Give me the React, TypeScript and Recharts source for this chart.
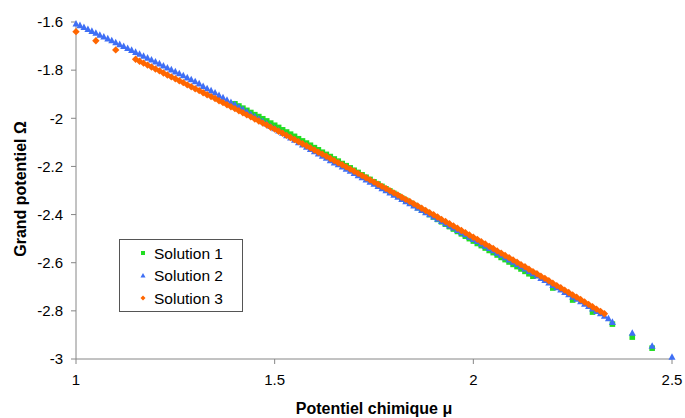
import React from "react";
import {
  ScatterChart,
  Scatter,
  XAxis,
  YAxis,
} from "recharts";

// Potentiel chimique (mu) vs grand potentiel (omega), three solution series

const X_TICKS = [1, 1.5, 2, 2.5];
const Y_TICKS = [-3, -2.8, -2.6, -2.4, -2.2, -2, -1.8, -1.6];

const SERIES_NAMES = ["Solution 1", "Solution 2", "Solution 3"];

// [mu, omega]
const SOLUTION_1: [number, number][] = [
  [1.40, -1.940], [1.41, -1.949], [1.42, -1.958], [1.43, -1.967], [1.44, -1.976],
  [1.45, -1.985], [1.46, -1.993], [1.47, -2.002], [1.48, -2.011], [1.49, -2.020],
  [1.50, -2.029], [1.51, -2.038], [1.52, -2.048], [1.53, -2.057], [1.54, -2.066],
  [1.55, -2.075], [1.56, -2.085], [1.57, -2.094], [1.58, -2.103], [1.59, -2.112],
  [1.60, -2.122], [1.61, -2.131], [1.62, -2.141], [1.63, -2.150], [1.64, -2.159],
  [1.65, -2.169], [1.66, -2.178], [1.67, -2.188], [1.68, -2.197], [1.69, -2.206],
  [1.70, -2.216], [1.71, -2.225], [1.72, -2.235], [1.73, -2.245], [1.74, -2.254],
  [1.75, -2.264], [1.76, -2.273], [1.77, -2.283], [1.78, -2.293], [1.79, -2.302],
  [1.80, -2.312], [1.81, -2.322], [1.82, -2.332], [1.83, -2.341], [1.84, -2.351],
  [1.85, -2.361], [1.86, -2.371], [1.87, -2.381], [1.88, -2.390], [1.89, -2.400],
  [1.90, -2.410], [1.91, -2.420], [1.92, -2.430], [1.93, -2.440], [1.94, -2.450],
  [1.95, -2.460], [1.96, -2.470], [1.97, -2.480], [1.98, -2.490], [1.99, -2.500],
  [2.00, -2.510], [2.01, -2.520], [2.02, -2.529], [2.03, -2.539], [2.04, -2.549],
  [2.05, -2.558], [2.06, -2.568], [2.07, -2.578], [2.08, -2.587], [2.09, -2.597],
  [2.10, -2.607], [2.11, -2.616], [2.12, -2.626], [2.13, -2.636], [2.14, -2.646],
  [2.15, -2.656],
  [2.20, -2.705], [2.25, -2.755], [2.30, -2.805], [2.35, -2.855],
  [2.40, -2.909], [2.45, -2.955],
];

const SOLUTION_2: [number, number][] = [
  [1.00, -1.607], [1.01, -1.614], [1.02, -1.622], [1.03, -1.630], [1.04, -1.638],
  [1.05, -1.646], [1.06, -1.654], [1.07, -1.661], [1.08, -1.669], [1.09, -1.677],
  [1.10, -1.685], [1.11, -1.693], [1.12, -1.701], [1.13, -1.709], [1.14, -1.717],
  [1.15, -1.725], [1.16, -1.733], [1.17, -1.741], [1.18, -1.749], [1.19, -1.757],
  [1.20, -1.765], [1.21, -1.773], [1.22, -1.782], [1.23, -1.790], [1.24, -1.798],
  [1.25, -1.806], [1.26, -1.814], [1.27, -1.822], [1.28, -1.831], [1.29, -1.839],
  [1.30, -1.847], [1.31, -1.856], [1.32, -1.867], [1.33, -1.876], [1.34, -1.885],
  [1.35, -1.894], [1.36, -1.905], [1.37, -1.914], [1.38, -1.924], [1.39, -1.934],
  [1.40, -1.943], [1.41, -1.953], [1.42, -1.963], [1.43, -1.973], [1.44, -1.983],
  [1.45, -1.993], [1.46, -2.002], [1.47, -2.013], [1.48, -2.022], [1.49, -2.033],
  [1.50, -2.042], [1.51, -2.052], [1.52, -2.061], [1.53, -2.071], [1.54, -2.081],
  [1.55, -2.090], [1.56, -2.100], [1.57, -2.110], [1.58, -2.119], [1.59, -2.128],
  [1.60, -2.138], [1.61, -2.147], [1.62, -2.156], [1.63, -2.165], [1.64, -2.175],
  [1.65, -2.184], [1.66, -2.192], [1.67, -2.201], [1.68, -2.210], [1.69, -2.219],
  [1.70, -2.228], [1.71, -2.237], [1.72, -2.246], [1.73, -2.255], [1.74, -2.264],
  [1.75, -2.273], [1.76, -2.282], [1.77, -2.291], [1.78, -2.300], [1.79, -2.309],
  [1.80, -2.318], [1.81, -2.327], [1.82, -2.336], [1.83, -2.345], [1.84, -2.354],
  [1.85, -2.363], [1.86, -2.372], [1.87, -2.382], [1.88, -2.391], [1.89, -2.400],
  [1.90, -2.409], [1.91, -2.418], [1.92, -2.428], [1.93, -2.437], [1.94, -2.446],
  [1.95, -2.455], [1.96, -2.465], [1.97, -2.474], [1.98, -2.483], [1.99, -2.493],
  [2.00, -2.502], [2.01, -2.511], [2.02, -2.521], [2.03, -2.530], [2.04, -2.540],
  [2.05, -2.549], [2.06, -2.559], [2.07, -2.568], [2.08, -2.578], [2.09, -2.587],
  [2.10, -2.597], [2.11, -2.606], [2.12, -2.616], [2.13, -2.625], [2.14, -2.635],
  [2.15, -2.645], [2.16, -2.654], [2.17, -2.664], [2.18, -2.673], [2.19, -2.683],
  [2.20, -2.693], [2.21, -2.703], [2.22, -2.712], [2.23, -2.722], [2.24, -2.732],
  [2.25, -2.742], [2.26, -2.751], [2.27, -2.761], [2.28, -2.771], [2.29, -2.781],
  [2.30, -2.791], [2.31, -2.801], [2.32, -2.811], [2.33, -2.821], [2.34, -2.832],
  [2.35, -2.847],
  [2.40, -2.892], [2.45, -2.946], [2.50, -2.992],
];

const SOLUTION_3: [number, number][] = [
  [1.00, -1.640], [1.05, -1.678], [1.10, -1.716],
  [1.15, -1.755], [1.16, -1.763], [1.17, -1.771], [1.18, -1.779], [1.19, -1.787],
  [1.20, -1.795], [1.21, -1.803], [1.22, -1.812], [1.23, -1.820], [1.24, -1.828],
  [1.25, -1.836], [1.26, -1.844], [1.27, -1.852], [1.28, -1.861], [1.29, -1.869],
  [1.30, -1.877], [1.31, -1.885], [1.32, -1.894], [1.33, -1.902], [1.34, -1.910],
  [1.35, -1.918], [1.36, -1.927], [1.37, -1.935], [1.38, -1.944], [1.39, -1.952],
  [1.40, -1.960], [1.41, -1.969], [1.42, -1.977], [1.43, -1.986], [1.44, -1.994],
  [1.45, -2.003], [1.46, -2.011], [1.47, -2.020], [1.48, -2.028], [1.49, -2.037],
  [1.50, -2.045], [1.51, -2.054], [1.52, -2.062], [1.53, -2.071], [1.54, -2.080],
  [1.55, -2.088], [1.56, -2.097], [1.57, -2.106], [1.58, -2.114], [1.59, -2.123],
  [1.60, -2.132], [1.61, -2.141], [1.62, -2.149], [1.63, -2.158], [1.64, -2.167],
  [1.65, -2.176], [1.66, -2.185], [1.67, -2.193], [1.68, -2.202], [1.69, -2.211],
  [1.70, -2.220], [1.71, -2.229], [1.72, -2.238], [1.73, -2.247], [1.74, -2.256],
  [1.75, -2.265], [1.76, -2.274], [1.77, -2.283], [1.78, -2.292], [1.79, -2.301],
  [1.80, -2.310], [1.81, -2.319], [1.82, -2.328], [1.83, -2.337], [1.84, -2.346],
  [1.85, -2.355], [1.86, -2.364], [1.87, -2.374], [1.88, -2.383], [1.89, -2.392],
  [1.90, -2.401], [1.91, -2.410], [1.92, -2.420], [1.93, -2.429], [1.94, -2.438],
  [1.95, -2.447], [1.96, -2.457], [1.97, -2.466], [1.98, -2.475], [1.99, -2.485],
  [2.00, -2.494], [2.01, -2.503], [2.02, -2.513], [2.03, -2.522], [2.04, -2.532],
  [2.05, -2.541], [2.06, -2.551], [2.07, -2.560], [2.08, -2.570], [2.09, -2.579],
  [2.10, -2.589], [2.11, -2.598], [2.12, -2.608], [2.13, -2.617], [2.14, -2.627],
  [2.15, -2.637], [2.16, -2.646], [2.17, -2.656], [2.18, -2.665], [2.19, -2.675],
  [2.20, -2.685], [2.21, -2.695], [2.22, -2.704], [2.23, -2.714], [2.24, -2.724],
  [2.25, -2.734], [2.26, -2.743], [2.27, -2.753], [2.28, -2.763], [2.29, -2.773],
  [2.30, -2.783], [2.31, -2.793], [2.32, -2.802], [2.33, -2.812],
];

const GREEN = "#22dd22";
const BLUE = "#3f6ff5";
const ORANGE = "#ff6600";
const AXIS = "#868686";
const FONT = "'Liberation Sans', Arial, sans-serif";

const toPoints = (pairs: [number, number][]) =>
  pairs.map(([x, y]) => ({ x, y }));

const SquareDot = (p: any) => (
  <rect x={p.cx - 2.8} y={p.cy - 2.8} width={5.6} height={5.6} fill={GREEN} />
);

const TriangleDot = (p: any) => (
  <polygon
    points={`${p.cx},${p.cy - 3.8} ${p.cx + 3.5},${p.cy + 2.8} ${p.cx - 3.5},${p.cy + 2.8}`}
    fill={BLUE}
  />
);

const DiamondDot = (p: any) => (
  <polygon
    points={`${p.cx},${p.cy - 3.7} ${p.cx + 3.7},${p.cy} ${p.cx},${p.cy + 3.7} ${p.cx - 3.7},${p.cy}`}
    fill={ORANGE}
  />
);

// legend drawn as an overlay so it doesn't eat into the plot area
function LegendBox() {
  const rows = [
    { name: SERIES_NAMES[0], kind: "square" },
    { name: SERIES_NAMES[1], kind: "triangle" },
    { name: SERIES_NAMES[2], kind: "diamond" },
  ];
  return (
    <svg
      width={124}
      height={73}
      style={{ position: "absolute", left: 119, top: 239, display: "block" }}
    >
      <rect x={0.5} y={0.5} width={123} height={72} fill="#fff" stroke="#555" />
      {rows.map((r, i) => {
        const cy = 14 + i * 22.5;
        const cx = 24;
        return (
          <g key={r.name}>
            {r.kind === "square" && (
              <rect x={cx - 2} y={cy - 2} width={4} height={4} fill={GREEN} />
            )}
            {r.kind === "triangle" && (
              <polygon
                points={`${cx},${cy - 2.5} ${cx + 2.5},${cy + 2} ${cx - 2.5},${cy + 2}`}
                fill={BLUE}
              />
            )}
            {r.kind === "diamond" && (
              <polygon
                points={`${cx},${cy - 2.5} ${cx + 2.5},${cy} ${cx},${cy + 2.5} ${cx - 2.5},${cy}`}
                fill={ORANGE}
              />
            )}
            <text x={35} y={cy + 5.5} fontSize={15.5} fontFamily={FONT} fill="#000">
              {r.name}
            </text>
          </g>
        );
      })}
    </svg>
  );
}

export default function App() {
  const tick = { fill: "#000", fontSize: 15, fontFamily: FONT };
  return (
    <div
      style={{
        position: "absolute",
        left: 0,
        top: 0,
        width: 685,
        height: 418,
        background: "#fff",
      }}
    >
      <ScatterChart
        width={685}
        height={418}
        margin={{ top: 22, right: 13, bottom: 0, left: 0 }}
      >
        <XAxis
          type="number"
          dataKey="x"
          domain={[1, 2.5]}
          ticks={X_TICKS}
          height={59}
          tick={tick}
          tickSize={5}
          tickMargin={10}
          axisLine={{ stroke: AXIS }}
          tickLine={{ stroke: AXIS }}
          label={{
            content: () => (
              <text
                x={374}
                y={414}
                textAnchor="middle"
                fontSize={16}
                fontWeight="bold"
                fontFamily={FONT}
                fill="#000"
              >
                Potentiel chimique μ
              </text>
            ),
          }}
        />
        <YAxis
          type="number"
          dataKey="y"
          domain={[-3, -1.6]}
          ticks={Y_TICKS}
          width={76}
          tick={tick}
          tickSize={5}
          tickMargin={8}
          axisLine={{ stroke: AXIS }}
          tickLine={{ stroke: AXIS }}
          label={{
            content: () => (
              <text
                x={26}
                y={189}
                transform="rotate(-90 26 189)"
                textAnchor="middle"
                fontSize={16}
                fontWeight="bold"
                fontFamily={FONT}
                fill="#000"
              >
                Grand potentiel Ω
              </text>
            ),
          }}
        />
        <Scatter
          name={SERIES_NAMES[0]}
          data={toPoints(SOLUTION_1)}
          shape={SquareDot}
          isAnimationActive={false}
        />
        <Scatter
          name={SERIES_NAMES[1]}
          data={toPoints(SOLUTION_2)}
          shape={TriangleDot}
          isAnimationActive={false}
        />
        <Scatter
          name={SERIES_NAMES[2]}
          data={toPoints(SOLUTION_3)}
          shape={DiamondDot}
          isAnimationActive={false}
        />
      </ScatterChart>
      <LegendBox />
    </div>
  );
}
